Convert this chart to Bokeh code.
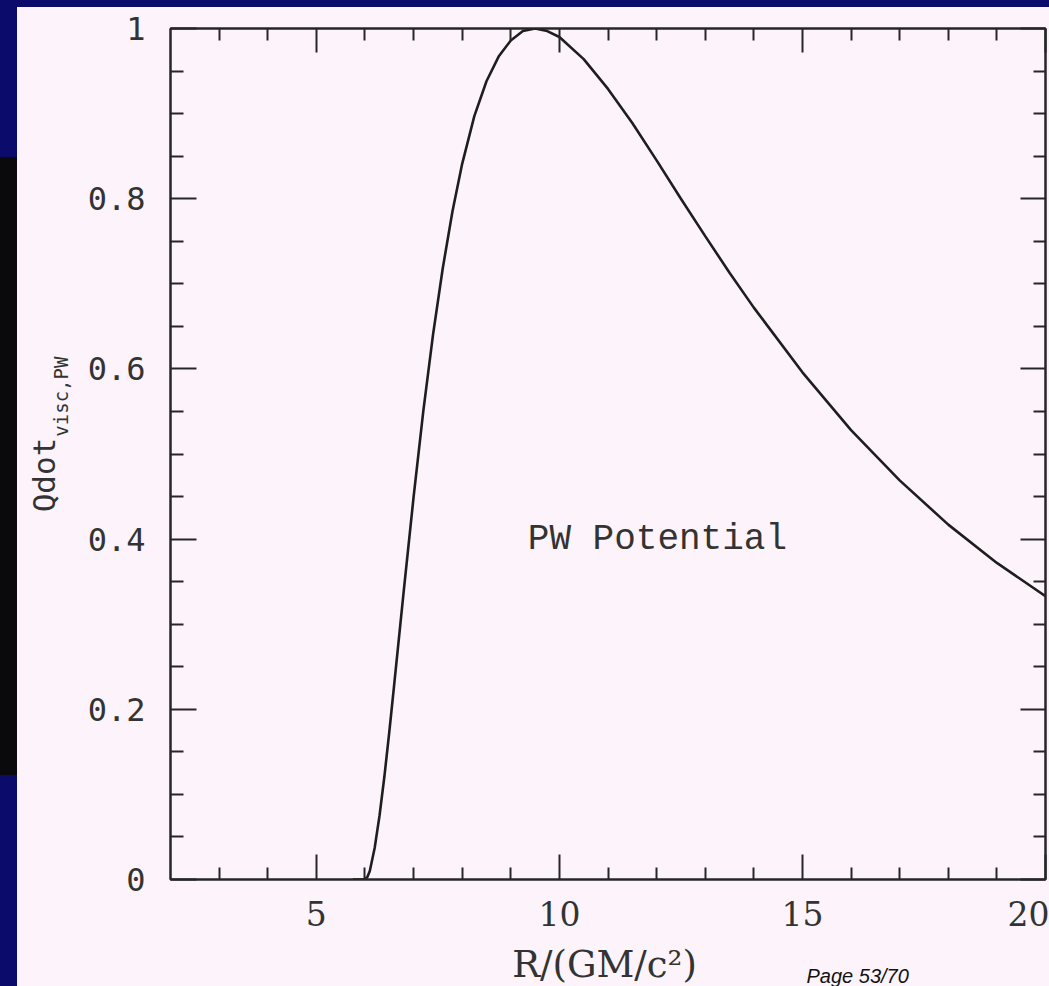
import math
from bokeh.plotting import figure
from bokeh.models import (LinearAxis, Range1d, Label, Div, FixedTicker,
                          CustomLabelingPolicy)
from bokeh.layouts import row, column
from bokeh.embed import file_html
from bokeh.resources import INLINE

# ---- data ----
R = [5.75, 6.0, 6.05, 6.1, 6.2, 6.3, 6.4, 6.5, 6.6, 6.8, 7.0, 7.2, 7.4, 7.6, 7.8,
     8.0, 8.25, 8.5, 8.75, 9.0, 9.25, 9.5, 9.75, 10.0, 10.5, 11.0, 11.5, 12.0,
     12.5, 13.0, 13.5, 14.0, 15.0, 16.0, 17.0, 18.0, 19.0, 20.0]
Q = [0.0, 0.0, 0.003, 0.010, 0.037, 0.075, 0.121, 0.173, 0.228, 0.340, 0.449,
     0.550, 0.640, 0.718, 0.785, 0.841, 0.897, 0.938, 0.967, 0.986, 0.997, 1.0,
     0.997, 0.990, 0.964, 0.929, 0.889, 0.845, 0.800, 0.756, 0.713, 0.672,
     0.596, 0.528, 0.469, 0.417, 0.372, 0.333]

x_major = [5, 10, 15, 20]
x_minor = [3, 4, 6, 7, 8, 9, 11, 12, 13, 14, 16, 17, 18, 19]
y_major = [0, 0.2, 0.4, 0.6, 0.8, 1]
y_minor = [0.05, 0.1, 0.15, 0.25, 0.3, 0.35, 0.45, 0.5, 0.55, 0.65, 0.7, 0.75,
           0.85, 0.9, 0.95]
y_labels = {0: "0", 0.2: "0.2", 0.4: "0.4", 0.6: "0.6", 0.8: "0.8", 1: "1"}

x_title = "R/(GM/c²)"
y_title = "Qdot"
y_title_sub = "visc,PW"
annotation = "PW Potential"
page_note = "Page 53/70"

PANEL = "#fcf4fa"
NAVY = "#0b0b6b"
INK = "#262626"
TXT = "#333333"

# ---------------- main plot ----------------
p = figure(width=972, height=934,
           x_range=Range1d(2, 20), y_range=Range1d(0, 1),
           output_backend="svg", toolbar_location=None,
           x_axis_location=None, y_axis_location=None,
           min_border_left=93, min_border_right=4,
           min_border_top=21, min_border_bottom=62,
           background_fill_color=PANEL, border_fill_color=PANEL,
           outline_line_color=INK, outline_line_width=2)
p.xgrid.visible = False
p.ygrid.visible = False

no_labels = CustomLabelingPolicy(code="return []")


def style(ax, maj_len, min_len, show_labels):
    ax.major_tick_in = maj_len
    ax.major_tick_out = 0
    ax.minor_tick_in = min_len
    ax.minor_tick_out = 0
    ax.axis_line_color = INK
    ax.axis_line_width = 2
    ax.major_tick_line_color = INK
    ax.major_tick_line_width = 2
    ax.minor_tick_line_color = INK
    ax.minor_tick_line_width = 2
    if not show_labels:
        ax.major_label_text_font_size = "0px"
        ax.major_label_standoff = 0
        ax.major_label_policy = no_labels


xb = LinearAxis(ticker=FixedTicker(ticks=x_major, minor_ticks=x_minor))
style(xb, 25, 12, True)
xb.major_label_text_font = "DejaVu Serif"
xb.major_label_text_font_size = "33px"
xb.major_label_text_color = TXT
xb.major_label_standoff = 21
p.add_layout(xb, "below")

xt = LinearAxis(ticker=FixedTicker(ticks=x_major, minor_ticks=x_minor))
style(xt, 24, 12, False)
p.add_layout(xt, "above")

yl = LinearAxis(ticker=FixedTicker(ticks=y_major, minor_ticks=y_minor))
style(yl, 26, 13, True)
yl.major_label_overrides = y_labels
yl.major_label_text_font = "DejaVu Sans Mono"
yl.major_label_text_font_size = "32px"
yl.major_label_text_color = TXT
yl.major_label_standoff = 25
p.add_layout(yl, "left")

yr = LinearAxis(ticker=FixedTicker(ticks=y_major, minor_ticks=y_minor))
style(yr, 25, 12, False)
p.add_layout(yr, "right")

p.line(R, Q, line_color="#1e1e1e", line_width=2.6)

p.add_layout(Label(x=9.35, y=0.4, text=annotation, text_font="Liberation Mono",
                   text_font_size="36px", text_baseline="middle",
                   text_color=TXT))


def text_panel(w, h):
    f = figure(width=w, height=h, x_range=Range1d(0, w), y_range=Range1d(0, h),
               output_backend="svg", toolbar_location=None,
               x_axis_location=None, y_axis_location=None,
               min_border=0, min_border_left=0, min_border_right=0,
               min_border_top=0, min_border_bottom=0,
               background_fill_color=PANEL, border_fill_color=PANEL,
               outline_line_color=None)
    f.xgrid.visible = False
    f.ygrid.visible = False
    return f


# ---------------- y title panel (left of the axis) ----------------
tfig = text_panel(60, 934)
tfig.add_layout(Label(x=26, y=403, text=y_title, angle=math.pi / 2,
                      text_font="DejaVu Sans Mono", text_font_size="31px",
                      text_baseline="alphabetic", text_align="left",
                      text_color=TXT))
tfig.add_layout(Label(x=43, y=486, text=y_title_sub, angle=math.pi / 2,
                      text_font="DejaVu Sans Mono", text_font_size="19px",
                      text_baseline="alphabetic", text_align="left",
                      text_color=TXT))

# ---------------- caption panel (below the tick labels) ----------------
cfig = text_panel(1032, 45)
cfig.add_layout(Label(x=587, y=22, text=x_title, text_font="DejaVu Serif",
                      text_font_size="37px", text_align="center",
                      text_baseline="middle", text_color=TXT))
cfig.add_layout(Label(x=789, y=11, text=page_note, text_font="Liberation Sans",
                      text_font_size="20px", text_font_style="italic",
                      text_align="left", text_baseline="middle",
                      text_color="#111111"))

left_strip = Div(width=17, height=986, margin=0, styles={
    "background": f"linear-gradient(to bottom, {NAVY} 0px, {NAVY} 157px, #0a0a0c 157px, #0a0a0c 775px, {NAVY} 775px)"})
top_strip = Div(width=1032, height=7, margin=0, styles={"background-color": NAVY})

inner = row(tfig, p, spacing=0, styles={"background-color": PANEL})
right_col = column(top_strip, inner, cfig, spacing=0,
                   styles={"background-color": PANEL})
layout = row(left_strip, right_col, spacing=0, styles={"background-color": PANEL})

open("out.html", "w").write(file_html(layout, INLINE))
